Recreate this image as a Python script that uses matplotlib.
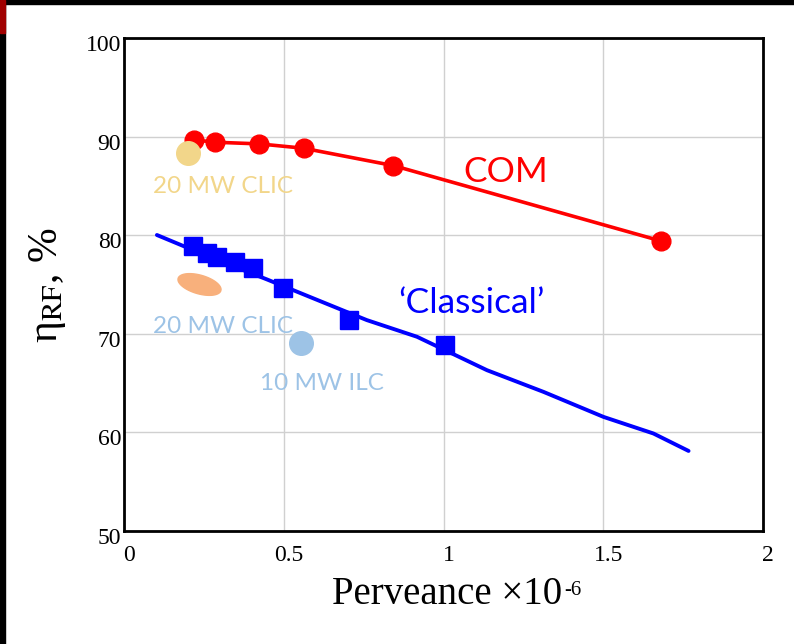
import numpy as np
import matplotlib
matplotlib.use('Agg')
import matplotlib.pyplot as plt
from matplotlib.path import Path
from matplotlib.transforms import Affine2D, ScaledTranslation
from matplotlib.patches import Rectangle

plt.rcParams['mathtext.fontset'] = 'stix'

# COM klystron points
com_x = [0.220, 0.285, 0.424, 0.562, 0.843, 1.681]
com_y = [89.67, 89.43, 89.26, 88.82, 87.06, 79.41]

# classical klystron squares
cls_x = [0.215, 0.259, 0.292, 0.348, 0.403, 0.499, 0.703, 1.005]
cls_y = [78.90, 78.16, 77.82, 77.31, 76.64, 74.60, 71.39, 68.85]

# classical fit curve
fit_x = [0.103, 0.186, 0.300, 0.447, 0.593, 0.760, 0.917, 1.136, 1.313, 1.501, 1.657, 1.767]
fit_y = [80.02, 78.90, 77.40, 75.52, 73.59, 71.39, 69.70, 66.31, 64.11, 61.57, 59.89, 58.12]

# single designs
clic_com = (0.200, 88.31)
clic_cls = (0.236, 75.02)
ilc_cls = (0.554, 69.09)

x_ticks = [0, 0.5, 1, 1.5, 2]
x_labels = ['0', '0.5', '1', '1.5', '2']
y_ticks = [50, 60, 70, 80, 90, 100]

fig = plt.figure(figsize=(7.94, 6.44), dpi=100)
fig.patch.set_facecolor('white')

# slide border
W, H = 794, 644
fig.patches.append(Rectangle((0, 0), 5 / W, 1, transform=fig.transFigure, color='black', zorder=0))
fig.patches.append(Rectangle((0, 1 - 4 / H), 1, 4 / H, transform=fig.transFigure, color='black', zorder=0))
bar = fig.add_axes([0, 1 - 4 / H, 270 / W, 4 / H])
grad = np.linspace(0, 1, 256)[None, :]
bar.imshow(grad, aspect='auto', cmap=matplotlib.colors.LinearSegmentedColormap.from_list('rb', ['#c00000', '#000000']))
bar.axis('off')
fig.patches.append(Rectangle((0, 1 - 33 / H), 5 / W, 33 / H, transform=fig.transFigure, color='#a00000', zorder=1))

ax = fig.add_axes([124 / W, 1 - 531 / H, 639 / W, 493 / H])

ax.plot(fit_x, fit_y, color='#0000ff', lw=2.8, solid_capstyle='round', zorder=3)
ax.plot(cls_x, cls_y, 's', color='#0000ff', ms=13, zorder=4)
ax.plot(com_x, com_y, 'o-', color='#ff0000', lw=2.6, ms=13.5, zorder=4)

ax.plot(*clic_com, 'o', color='#f2d68a', ms=17, zorder=5)
ax.plot(*ilc_cls, 'o', color='#9dc3e6', ms=17, zorder=5)

t = np.linspace(0, 2 * np.pi, 80)
ell = np.column_stack([np.cos(t), 0.42 * np.sin(t)])
ell = Affine2D().rotate_deg(-16).transform(ell)
ax.plot(*clic_cls, marker=Path(ell), color='#f8b07c', ms=31, zorder=5, ls='none')

gfont = 'Lato'
ax.text(1.062, 85.4, 'COM', color='#ff0000', fontsize=25.5, family=gfont, va='baseline')
ax.text(0.858, 72.1, '\u2018Classical\u2019', color='#0000ff', fontsize=25.5, family=gfont, va='baseline')
ax.text(0.091, 84.31, '20 MW CLIC', color='#f2d68a', fontsize=17.5, family=gfont, va='baseline')
ax.text(0.091, 70.1, '20 MW CLIC', color='#9dc3e6', fontsize=17.5, family=gfont, va='baseline')
ax.text(0.426, 64.28, '10 MW ILC', color='#9dc3e6', fontsize=17.5, family=gfont, va='baseline')

ax.set_xlim(0, 2)
ax.set_ylim(50, 100)
ax.set_xticks(x_ticks)
ax.set_xticklabels(x_labels)
ax.set_yticks(y_ticks)
ax.grid(True, color='#d0d0d0', lw=1)
ax.set_axisbelow(True)
ax.tick_params(length=0, labelsize=17, pad=10)
ax.tick_params(axis='y', pad=2)
for lab in ax.get_xticklabels() + ax.get_yticklabels():
    lab.set_family('Liberation Serif')
for lab in ax.get_xticklabels():
    lab.set_transform(lab.get_transform() + ScaledTranslation(5 / 100, 0, fig.dpi_scale_trans))
for lab in ax.get_yticklabels():
    lab.set_transform(lab.get_transform() + ScaledTranslation(0, -5 / 100, fig.dpi_scale_trans))
for s in ax.spines.values():
    s.set_linewidth(2)
    s.set_color('black')

xl = ax.set_xlabel('Perveance \u00d710', fontsize=28, family='Liberation Serif')
ax.xaxis.set_label_coords(0.506, -0.092)
ax.annotate('-6', xy=(1, 1), xycoords=xl, xytext=(1, -3), textcoords='offset points',
            fontsize=15, family='Liberation Serif', va='top', ha='left')
ax.set_ylabel('\u03b7$_{\\mathrm{RF}}$, %', fontsize=30, family='Liberation Serif')
ax.yaxis.set_label_coords(-0.088, 0.5)

fig.savefig('out.png', dpi=100)
